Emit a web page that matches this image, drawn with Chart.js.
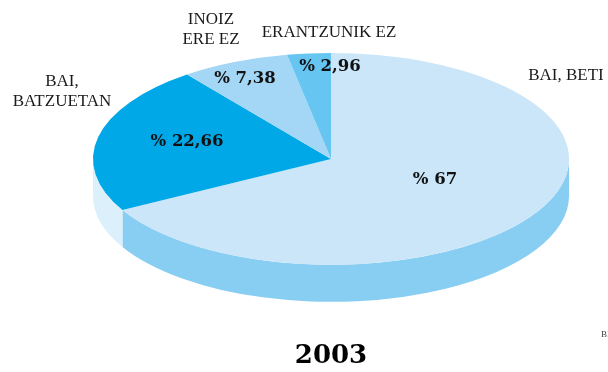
<!DOCTYPE html>
<html lang="eu">
<head>
  <meta charset="UTF-8" />
  <title>2003</title>
  <script src="https://cdn.jsdelivr.net/npm/chart.js"></script>
  <style>
    html, body {
      margin: 0;
      background: #fff;
    }
    #wrap {
      position: relative;
      width: 608px;
      height: 372px;
    }
  </style>
</head>
<body>
  <div id="wrap"><canvas id="pie"></canvas></div>

  <script>
    const year = '2003';
    const answers = ['BAI, BETI', 'BAI,\nBATZUETAN', 'INOIZ\nERE EZ', 'ERANTZUNIK EZ'];
    const shares = [67, 22.66, 7.38, 2.96];

    const topColors = ['#cae6f8', '#00a8e8', '#a3d7f5', '#67c6f1'];
    const rimColors = ['#88cdf2', '#dcf0fc', '#88cdf2', '#67c6f1'];

    // the pie is squashed into an ellipse and stood on a rim
    const tilt = 0.445;
    const rimDepth = 37;

    // percent label offsets from the pie centre, answer labels around it
    const pctOffsets = [[104, 21], [-144, -17], [-86, -80], [-1, -92]];
    const answerSpots = [
      { x: 566, y: 80 },
      { x: 62, y: 86 },
      { x: 211, y: 24 },
      { x: 329, y: 37 }
    ];
    const lineGap = 20;

    const tiltedPie = {
      id: 'tiltedPie',
      beforeDatasetsDraw(chart) {
        const { ctx } = chart;
        const arcs = chart.getDatasetMeta(0).data;
        const cx = arcs[0].x, cy = arcs[0].y;
        const rx = arcs[0].outerRadius, ry = rx * tilt;

        // only the front half of the rim can be seen
        arcs.forEach((arc, i) => {
          const a0 = Math.max(arc.startAngle, 0);
          const a1 = Math.min(arc.endAngle, Math.PI);
          if (a1 <= a0) return;
          ctx.beginPath();
          ctx.ellipse(cx, cy, rx, ry, 0, a0, a1);
          ctx.ellipse(cx, cy + rimDepth, rx, ry, 0, a1, a0, true);
          ctx.closePath();
          ctx.fillStyle = rimColors[i];
          ctx.fill();
        });

        ctx.save();
        ctx.translate(cx, cy);
        ctx.scale(1, tilt);
        ctx.translate(-cx, -cy);
      },
      afterDatasetsDraw(chart) {
        const { ctx } = chart;
        ctx.restore();

        const arcs = chart.getDatasetMeta(0).data;
        const cx = arcs[0].x, cy = arcs[0].y;

        ctx.save();
        ctx.fillStyle = '#111';
        ctx.textAlign = 'center';
        ctx.textBaseline = 'middle';
        ctx.font = 'bold 16.5px "DejaVu Serif"';
        shares.forEach((v, i) => {
          const txt = '% ' + String(v).replace('.', ',');
          ctx.fillText(txt, cx + pctOffsets[i][0], cy + pctOffsets[i][1]);
        });

        ctx.fillStyle = '#1a1a1a';
        ctx.textBaseline = 'alphabetic';
        ctx.font = '17px "Liberation Serif"';
        answers.forEach((name, i) => {
          const spot = answerSpots[i];
          name.split('\n').forEach((line, j) => {
            ctx.fillText(line, spot.x, spot.y + j * lineGap);
          });
        });

        // source note running off the right edge
        ctx.textAlign = 'left';
        ctx.fillStyle = '#444';
        ctx.font = '9px "Liberation Serif"';
        ctx.fillText('BE', 601, 337);
        ctx.restore();
      }
    };

    new Chart(document.getElementById('pie'), {
      type: 'pie',
      data: {
        labels: answers,
        datasets: [{
          data: shares,
          backgroundColor: topColors,
          borderWidth: 0,
          radius: 238
        }]
      },
      options: {
        responsive: true,
        maintainAspectRatio: false,
        animation: false,
        events: [],
        clip: false,
        layout: {
          padding: { left: 54, right: 0, top: 0, bottom: 0 }
        },
        plugins: {
          legend: { display: false },
          tooltip: { enabled: false },
          title: {
            display: true,
            text: year,
            position: 'bottom',
            color: '#000',
            font: { family: 'DejaVu Serif', size: 26, weight: 'bold', lineHeight: 1.2 },
            padding: { top: 23, bottom: 0 }
          }
        }
      },
      plugins: [tiltedPie]
    });
  </script>
</body>
</html>
